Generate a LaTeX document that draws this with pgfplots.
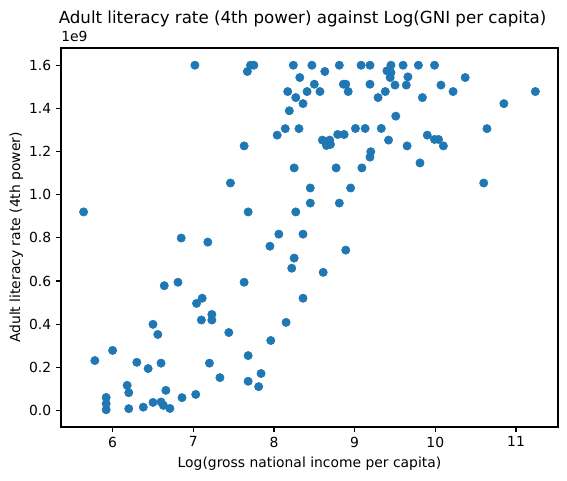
\documentclass[border=0pt]{standalone}
\usepackage{pgfplots}
\pgfplotsset{compat=1.18}
\usepackage{fontspec}
\setmainfont{DejaVu Sans}
\definecolor{mplblue}{HTML}{1F77B4}
\begin{document}
\begin{tikzpicture}
\useasboundingbox (0pt,0pt) rectangle (408.24pt,345.6pt);
\begin{axis}[
  at={(43.92pt,38.16pt)}, anchor=south west,
  scale only axis, width=357.8pt, height=272.9pt,
  xmin=5.36, xmax=11.52, ymin=-0.077, ymax=1.68,
  xtick={6,7,8,9,10,11},
  ytick={0,0.2,0.4,0.6,0.8,1.0,1.2,1.4,1.6},
  yticklabel style={/pgf/number format/.cd, fixed, fixed zerofill, precision=1},
  /pgf/number format/assume math mode=true,
  tick align=outside, major tick length=3.5pt,
  xtick pos=bottom, ytick pos=left,
  tick label style={font=\fontsize{10}{12}\selectfont},
  label style={font=\fontsize{10}{12}\selectfont},
  xlabel={Log(gross national income per capita)},
  ylabel={Adult literacy rate (4th power)},
  ylabel style={yshift=-2.5pt},
  title={Adult literacy rate (4th power) against Log(GNI per capita)},
  title style={font=\fontsize{12}{14}\selectfont, yshift=5.5pt, xshift=-5pt},
  axis line style={line width=0.8pt},
  every tick/.style={line width=0.8pt, black},
  clip=false,
]
\addplot[only marks, mark=*, mark size=3pt, mark options={fill=mplblue, draw=mplblue}] coordinates {
(5.64,0.920)(6.85,0.799)(7.18,0.780)(6.64,0.578)(6.81,0.594)(7.11,0.520)(7.04,0.496)
(7.23,0.445)(7.10,0.419)(7.23,0.419)(7.44,0.361)(6.50,0.399)(6.56,0.352)(6.00,0.278)
(5.78,0.231)(6.30,0.223)(6.44,0.194)(6.60,0.219)(7.20,0.219)(7.33,0.152)(6.18,0.116)
(6.20,0.082)(5.92,0.060)(5.92,0.031)(5.92,0.003)(6.20,0.008)(6.38,0.015)(6.50,0.037)
(6.60,0.039)(6.63,0.023)(6.71,0.009)(6.66,0.093)(6.86,0.059)(7.03,0.074)
(7.68,0.920)(8.27,0.920)(8.45,0.961)(8.81,0.961)(8.45,1.031)(8.95,1.031)(8.06,0.817)
(8.36,0.817)(7.95,0.761)(8.89,0.743)(8.25,0.706)(8.22,0.659)(8.61,0.640)(7.63,0.594)
(8.36,0.520)(8.15,0.408)(7.96,0.324)(7.68,0.254)(7.84,0.171)(7.68,0.135)(7.81,0.110)
(7.02,1.600)(7.71,1.600)(7.75,1.600)(7.67,1.571)(8.24,1.600)(8.47,1.600)(8.81,1.600)
(9.08,1.600)(9.19,1.600)(9.45,1.600)(9.60,1.600)(9.79,1.600)(9.99,1.600)(8.32,1.543)
(8.63,1.571)(8.50,1.512)(8.86,1.512)(8.89,1.512)(8.92,1.478)(9.19,1.512)(8.17,1.478)
(8.41,1.478)(8.57,1.478)(8.27,1.450)(8.36,1.422)(8.19,1.389)(8.14,1.306)(8.31,1.306)
(8.04,1.276)(9.01,1.307)(9.13,1.307)(9.33,1.307)(9.42,1.253)(9.20,1.199)(9.19,1.174)
(8.77,1.124)(9.09,1.124)(8.60,1.253)(8.69,1.253)(8.65,1.228)(8.70,1.233)(8.79,1.279)
(8.87,1.279)(7.63,1.226)(8.25,1.124)(7.46,1.054)(9.40,1.574)(9.44,1.543)(9.50,1.508)
(9.66,1.546)(9.64,1.508)(9.38,1.478)(9.29,1.450)(10.07,1.508)(10.22,1.478)(10.37,1.543)
(9.84,1.450)(9.51,1.364)(11.24,1.478)(10.85,1.422)(10.64,1.306)(9.90,1.276)(9.99,1.256)
(10.04,1.256)(10.10,1.226)(9.65,1.226)(9.81,1.147)(10.60,1.054)(9.45,1.566)
};
\node[anchor=south west, font=\fontsize{10}{12}\selectfont, inner sep=0pt] at (rel axis cs:0,1) [yshift=4pt] {1e9};
\end{axis}
\end{tikzpicture}
\end{document}
